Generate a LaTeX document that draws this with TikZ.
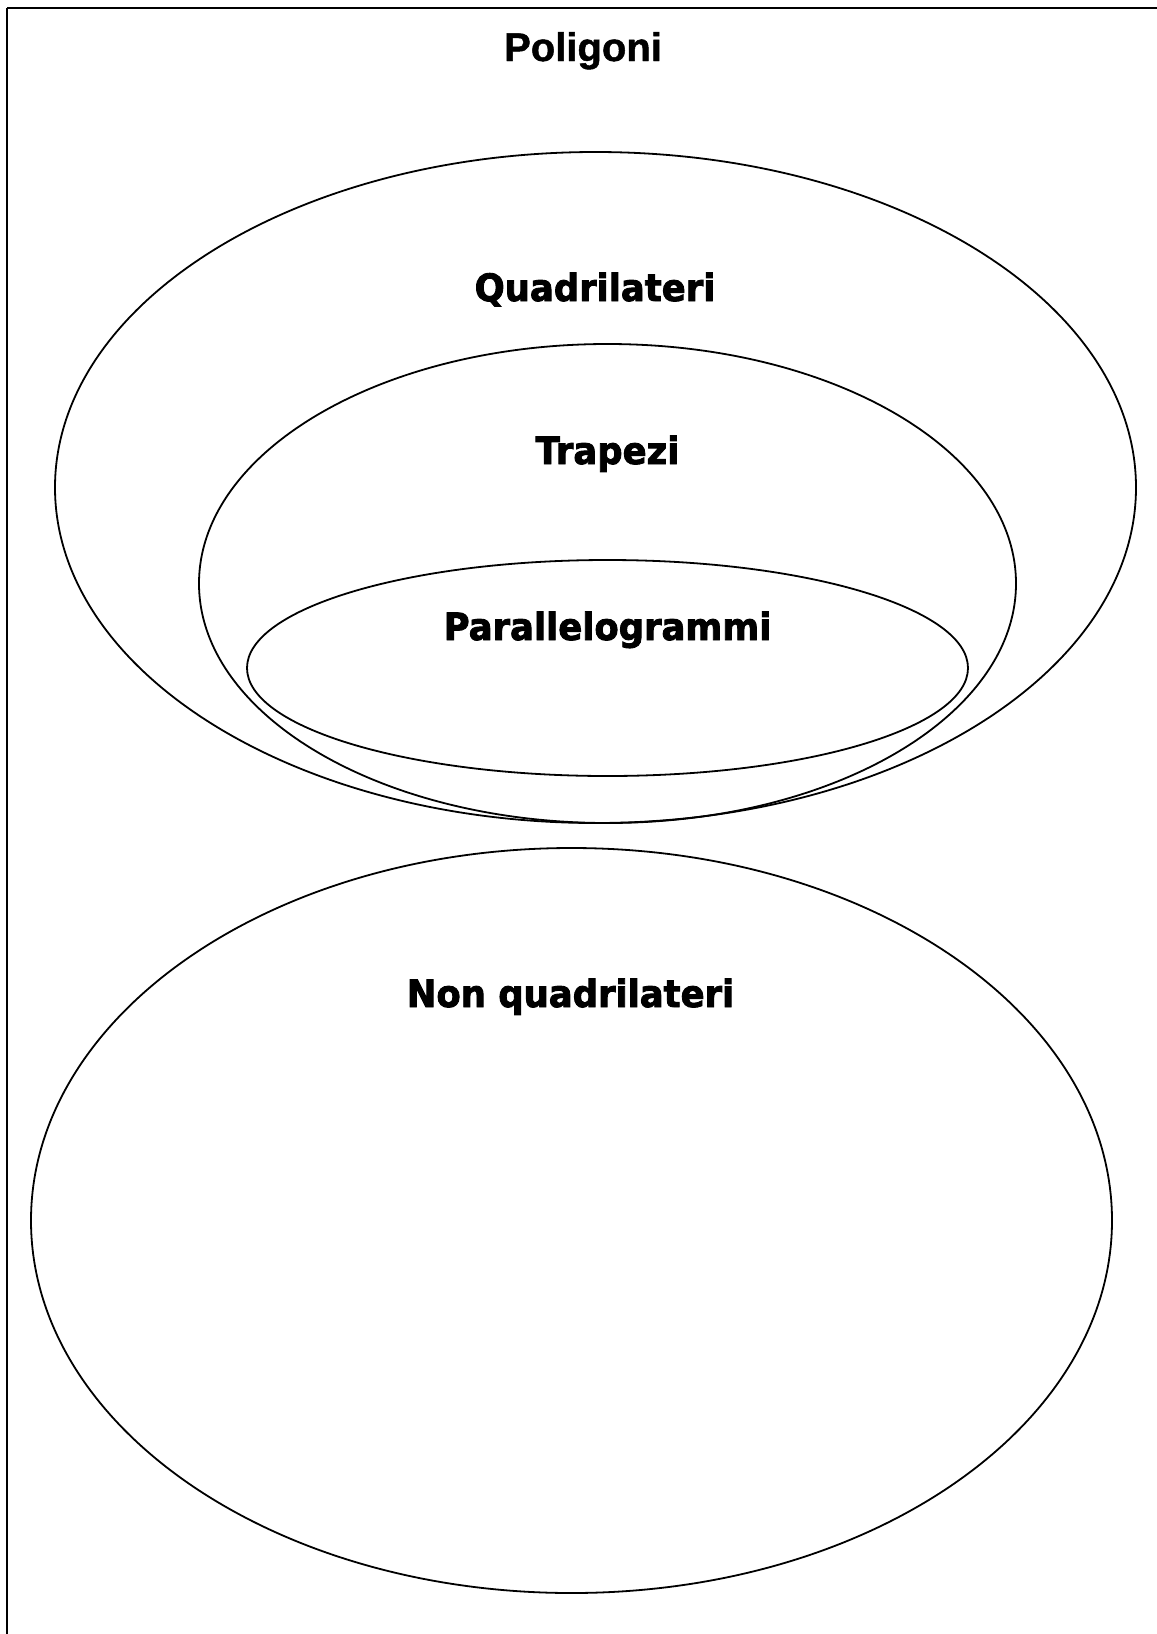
\documentclass[tikz,border=0pt]{standalone}
\usepackage{fontspec}
\newfontfamily\setfont{DejaVu Sans}[BoldFeatures={FakeBold=2.4}]
\newfontfamily\topfont{Liberation Sans}[BoldFeatures={FakeBold=1.2}]
\usetikzlibrary{shapes.geometric}
\begin{document}
\begin{tikzpicture}[
  x=0.5pt, y=-0.5pt,
  set/.style={ellipse, draw, line width=0.9pt, inner sep=0pt},
  lbl/.style={anchor=base, inner sep=0pt, yscale=1.06, font=\setfont\bfseries\fontsize{17.7}{20}\selectfont}
]
\useasboundingbox (0,0) rectangle (1157,1634);
% frame
\draw[line width=0.8pt] (7,1634) -- (7,8);
\draw[line width=1.3pt] (7,8) -- (1157,8);
% sets
\node[set, minimum width=540.5pt, minimum height=335.5pt] (quad) at (595.5,487.5) {};
\node[set, minimum width=408.5pt, minimum height=239.5pt] (trap) at (607.5,583.5) {};
\node[set, minimum width=360.5pt, minimum height=108pt] (para) at (607.5,668) {};
\node[set, minimum width=540.5pt, minimum height=372.5pt] (nonq) at (571.5,1220.5) {};
% labels
\node[anchor=base, inner sep=0pt, font=\topfont\bfseries\fontsize{20}{22}\selectfont] (poli) at (583,61) {Poligoni};
\node[lbl] (quadlbl) at (595,301) {Quadrilateri};
\node[lbl] (traplbl) at (607.5,464) {Trapezi};
\node[lbl] (paralbl) at (607.5,640) {Parallelogrammi};
\node[lbl] (nonqlbl) at (570.5,1007) {Non quadrilateri};
\end{tikzpicture}
\end{document}
